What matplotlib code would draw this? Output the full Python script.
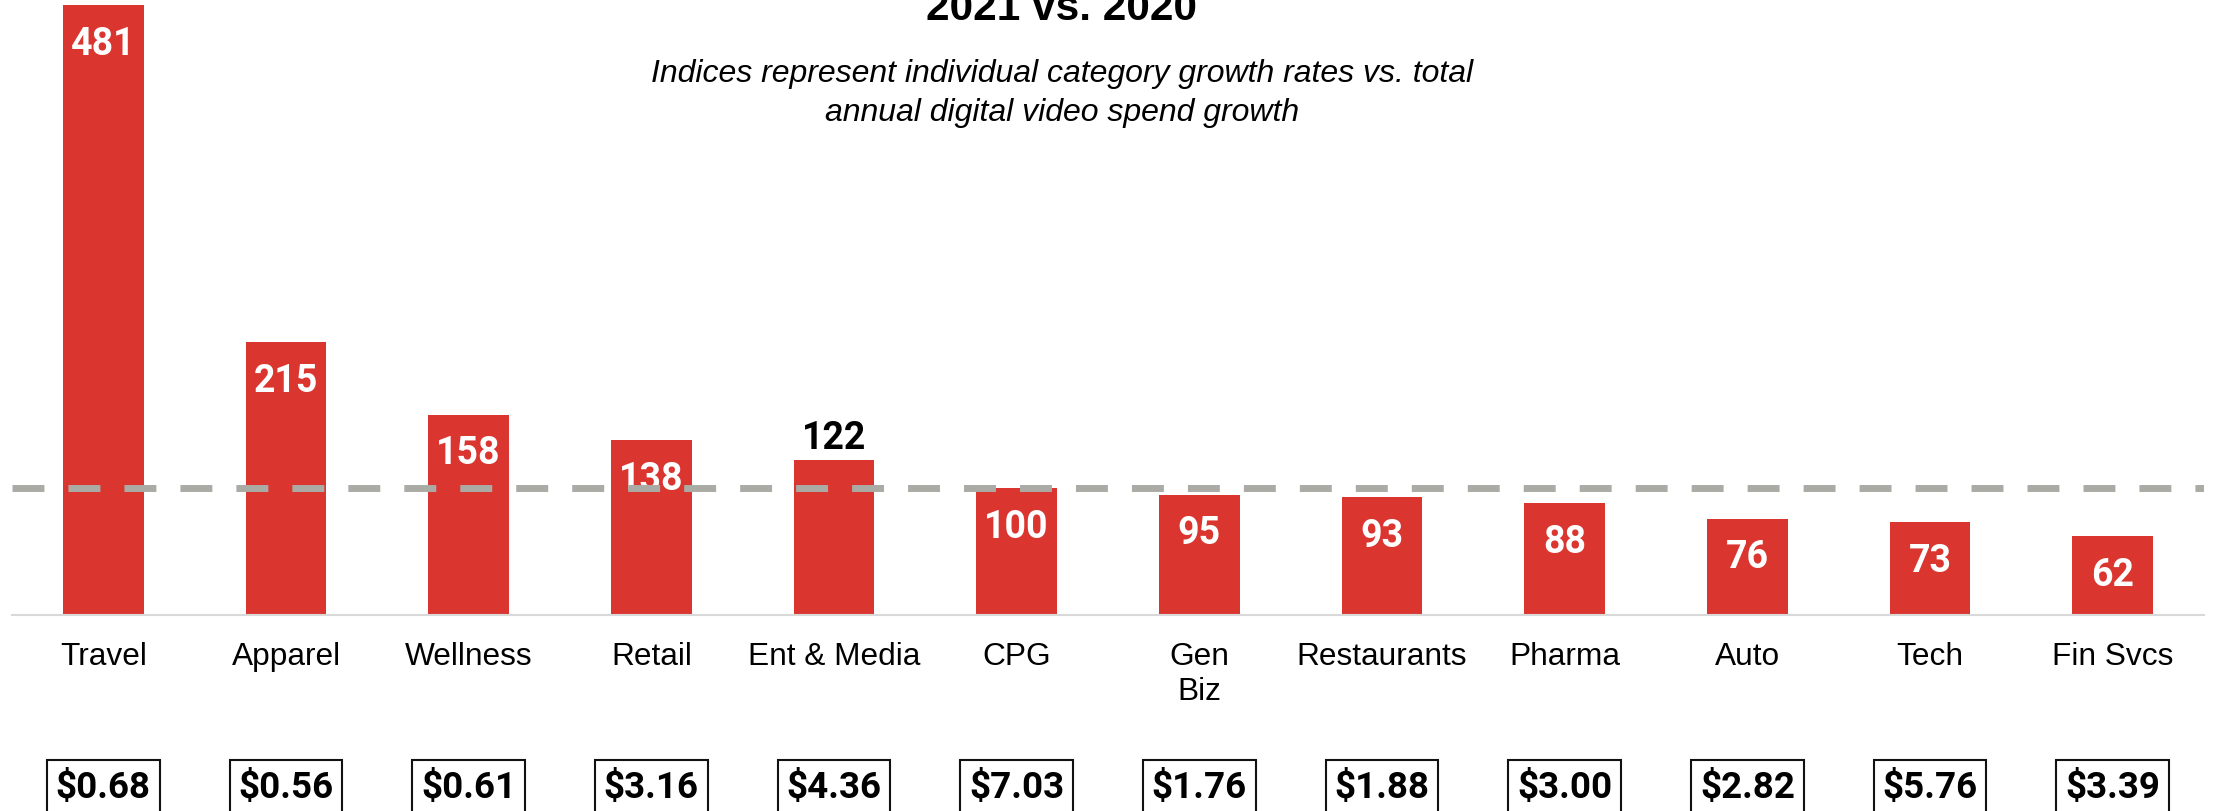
import matplotlib
matplotlib.use('Agg')
import matplotlib.pyplot as plt

# index of category growth vs. total digital video spend growth
categories = ['Travel', 'Apparel', 'Wellness', 'Retail', 'Ent & Media', 'CPG',
              'Gen\nBiz', 'Restaurants', 'Pharma', 'Auto', 'Tech', 'Fin Svcs']
index_values = [481, 215, 158, 138, 122, 100, 95, 93, 88, 76, 73, 62]
spend_labels = ['$0.68', '$0.56', '$0.61', '$3.16', '$4.36', '$7.03',
                '$1.76', '$1.88', '$3.00', '$2.82', '$5.76', '$3.39']
label_above = ['Ent & Media']
benchmark = 100

title = '2021 vs. 2020'
subtitle = ['Indices represent individual category growth rates vs. total',
            'annual digital video spend growth']

RED = '#DB3530'
W, H = 2217, 812

fig = plt.figure(figsize=(W / 100, H / 100), dpi=100)
ax = fig.add_axes([12 / W, 196 / H, 2192 / W, 616 / H])

x = list(range(len(categories)))
ax.bar(x, index_values, width=0.44, color=RED, zorder=2)
ax.set_xlim(-0.5, len(categories) - 0.5)
ax.set_ylim(0, 486)

# benchmark line
ax.axhline(benchmark, color='#ABABA6', lw=5, dashes=(4.6, 3.46), zorder=4)

for i, v in enumerate(index_values):
    if categories[i] in label_above:
        ax.annotate(str(v), xy=(i, v), xytext=(0, 23), textcoords='offset pixels',
                    ha='center', va='center', color='black', fontsize=27,
                    fontweight='bold', family='Roboto', zorder=3)
    else:
        ax.annotate(str(v), xy=(i, v), xytext=(0, -38), textcoords='offset pixels',
                    ha='center', va='center', color='white', fontsize=27,
                    fontweight='bold', family='Roboto', zorder=3)

# spend boxes under the category names
for i, s in enumerate(spend_labels):
    ax.annotate(s, xy=(i, 0), xycoords=('data', 'axes fraction'),
                xytext=(0, -182), textcoords='offset pixels',
                ha='center', va='baseline', fontsize=26.5, fontweight='bold',
                family='Roboto', annotation_clip=False,
                bbox=dict(boxstyle='square,pad=0.24', fc='white', ec='#111111', lw=1.5))

ax.set_xticks(x)
ax.set_xticklabels(categories, fontsize=22.8, family='Liberation Sans')
ax.tick_params(axis='x', length=0, pad=19)
ax.set_yticks([])
for side in ['top', 'left', 'right']:
    ax.spines[side].set_visible(False)
ax.spines['bottom'].set_color('#D9D9D9')
ax.spines['bottom'].set_linewidth(1.5)

fig.text(1061 / W, 1 - 20 / H, title, ha='center', va='baseline',
         fontsize=30.5, fontweight='bold', family='Liberation Sans')
fig.text(1062 / W, 1 - 82 / H, subtitle[0], ha='center', va='baseline',
         fontsize=23, style='italic', family='Liberation Sans')
fig.text(1062 / W, 1 - 121 / H, subtitle[1], ha='center', va='baseline',
         fontsize=23, style='italic', family='Liberation Sans')

fig.savefig('out.png', dpi=100)
